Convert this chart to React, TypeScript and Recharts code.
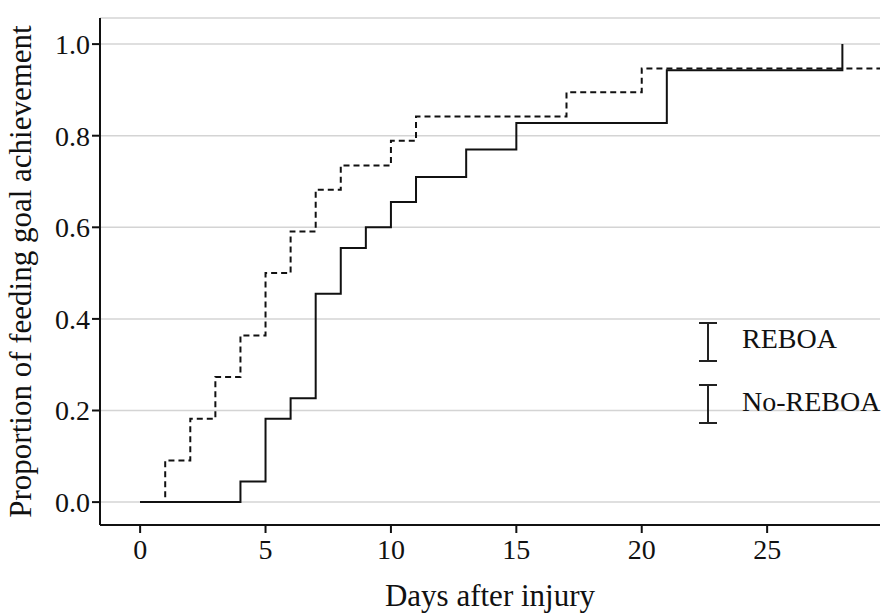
import { LineChart, Line, XAxis, YAxis, CartesianGrid } from 'recharts'

const reboaDays = [0, 1, 2, 3, 4, 5, 6, 7, 8, 10, 11, 17, 20, 29.5]
const reboaProp = [0, 0.091, 0.182, 0.273, 0.364, 0.5, 0.591, 0.682, 0.735, 0.789, 0.842, 0.895, 0.947, 0.947]
const noReboaDays = [0, 4, 5, 6, 7, 8, 9, 10, 11, 13, 15, 21, 28, 28]
const noReboaProp = [0, 0.045, 0.182, 0.227, 0.455, 0.555, 0.6, 0.655, 0.71, 0.77, 0.828, 0.943, 0.943, 1.0]
const xTicks = [0, 5, 10, 15, 20, 25]
const yTicks = [0, 0.2, 0.4, 0.6, 0.8, 1.0]

const reboa = reboaDays.map((d, i) => ({ day: d, p: reboaProp[i] }))
const noReboa = noReboaDays.map((d, i) => ({ day: d, p: noReboaProp[i] }))

const font = '"Liberation Serif", "DejaVu Serif", serif'

function Glyph({ y }: { y: number }) {
  return (
    <g stroke="#222" strokeWidth={2}>
      <line x1={708} x2={708} y1={y} y2={y + 38} />
      <line x1={699} x2={717} y1={y} y2={y} />
      <line x1={699} x2={717} y1={y + 38} y2={y + 38} />
    </g>
  )
}

export default function App() {
  return (
    <div style={{ position: 'absolute', left: 0, top: 0, width: 888, height: 615, background: '#fff', fontFamily: font }}>
      <LineChart width={888} height={615} margin={{ top: 18, right: 8, left: 0, bottom: 0 }}>
        <CartesianGrid vertical={false} stroke="#d4d4d4" strokeWidth={1.5} />
        <XAxis
          type="number" dataKey="day" domain={[-1.6, 29.5]} ticks={xTicks} height={90}
          allowDuplicatedCategory={false}
          stroke="#111" strokeWidth={2} tickSize={8}
          tick={{ fill: '#111', fontSize: 28, fontFamily: font, dy: 4 }}
          label={{ value: 'Days after injury', position: 'insideBottom', offset: 9, fill: '#111', fontSize: 31, fontFamily: font }}
        />
        <YAxis
          type="number" domain={[-0.05, 1.057]} ticks={yTicks} width={100}
          stroke="#111" strokeWidth={2} tickSize={8}
          tickFormatter={(v: number) => v.toFixed(1)}
          tick={{ fill: '#111', fontSize: 28, fontFamily: font }}
          label={{ value: 'Proportion of feeding goal achievement', angle: -90, position: 'insideLeft', offset: 20, style: { textAnchor: 'middle' }, fill: '#111', fontSize: 31, fontFamily: font }}
        />
        <Line data={reboa} dataKey="p" type="stepAfter" stroke="#111" strokeWidth={2} strokeDasharray="6 4" dot={false} isAnimationActive={false} />
        <Line data={noReboa} dataKey="p" type="stepAfter" stroke="#111" strokeWidth={2} dot={false} isAnimationActive={false} />
        <Glyph y={323} />
        <Glyph y={385} />
        <text x={742} y={348} fontSize={28} fontFamily={font} fill="#111">REBOA</text>
        <text x={742} y={411} fontSize={28} fontFamily={font} fill="#111">No-REBOA</text>
      </LineChart>
    </div>
  )
}
